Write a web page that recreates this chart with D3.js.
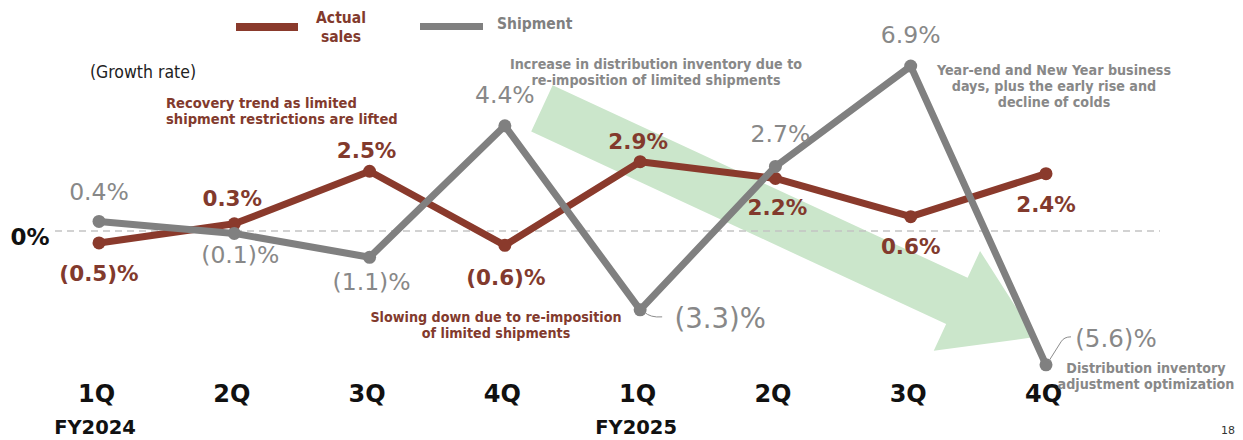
<!DOCTYPE html>
<html>
<head>
<meta charset="utf-8">
<script src="https://cdn.jsdelivr.net/npm/d3@7"></script>
<style>
  html, body { margin: 0; padding: 0; background: #fff; }
  svg { display: block; }
</style>
</head>
<body>
<svg id="chart" width="1243" height="440"></svg>
<script>
// Quarterly growth rates, FY2024 1Q to FY2025 4Q
const quarters = ["1Q", "2Q", "3Q", "4Q", "1Q", "2Q", "3Q", "4Q"];
const fiscalYears = ["FY2024", "", "", "", "FY2025", "", "", ""];
const actualSales = [-0.5, 0.3, 2.5, -0.6, 2.9, 2.2, 0.6, 2.4];
const shipment = [0.4, -0.1, -1.1, 4.4, -3.3, 2.7, 6.9, -5.6];
const seriesNames = ["Actual sales", "Shipment"];

// Label placement relative to each point (dx, dy)
const salesLabelOffsets = [[0, 31], [-2, -25], [-3, -21], [1, 32], [-2, -20], [2, 29], [0, 30], [0, 31]];
const shipLabelOffsets = [[0, -29], [6, 22], [2, 25], [0, -31], [80, 8], [5, -32], [0, -31], [70, -26]];

const BROWN = "#8a3a2c";
const BROWN_TEXT = "#823a2d";
const GRAY = "#808080";
const GRAY_TEXT = "#888888";
const FONT = "'DejaVu Sans', Verdana, sans-serif";
const FONT_C = "'DejaVu Sans Condensed', 'DejaVu Sans', sans-serif";

const svg = d3.select("#chart");
const idx = d3.range(quarters.length);

const x = d3.scalePoint().domain(idx).range([99, 1046]);
const y = d3.scaleLinear().domain([-6, 7]).range([231 + 6 * 23.9, 231 - 7 * 23.9]);

const fmt = v => v < 0 ? `(${Math.abs(v).toFixed(1)})%` : `${v.toFixed(1)}%`;

// Trend arrow (background), defined in data space
(function drawArrow() {
  const tail = [x(0) + 3.274 * (x(1) - x(0)), y(5.13)];
  const tip = [x(0) + 6.918 * (x(1) - x(0)), y(-4.44)];
  const dxv = tip[0] - tail[0], dyv = tip[1] - tail[1];
  const len = Math.hypot(dxv, dyv);
  const u = [dxv / len, dyv / len];
  const n = [-u[1], u[0]];
  const bodyHalf = 25.5, headHalf = 55, headLen = 86;
  const p = (a, b) => [tail[0] + u[0] * a + n[0] * b, tail[1] + u[1] * a + n[1] * b];
  const pts = [
    p(0, -bodyHalf), p(len - headLen, -bodyHalf), p(len - headLen, -headHalf),
    p(len, 0),
    p(len - headLen, headHalf), p(len - headLen, bodyHalf), p(0, bodyHalf)
  ];
  svg.append("polygon")
    .attr("points", pts.map(d => d.join(",")).join(" "))
    .attr("fill", "#cbe6cb");
})();

// Zero baseline
svg.append("line")
  .attr("x1", 55).attr("x2", 1160)
  .attr("y1", y(0)).attr("y2", y(0))
  .attr("stroke", "#c4c4c4").attr("stroke-width", 1.5)
  .attr("stroke-dasharray", "7,5");

svg.append("text")
  .attr("x", 30).attr("y", y(0) + 6)
  .attr("text-anchor", "middle").attr("dominant-baseline", "central")
  .attr("font-family", FONT).attr("font-weight", "bold").attr("font-size", 23)
  .attr("fill", "#111").text("0%");

// Category axis
const xAxis = d3.axisBottom(x).tickSize(0).tickPadding(0).tickFormat(i => quarters[i]);
const axisG = svg.append("g").attr("transform", "translate(-3,393)").call(xAxis);
axisG.select(".domain").remove();
axisG.selectAll("text")
  .attr("font-family", FONT).attr("font-weight", "bold").attr("font-size", 24)
  .attr("fill", "#111").attr("dy", "0.36em");

svg.append("g").selectAll("text")
  .data(idx.filter(i => fiscalYears[i]))
  .join("text")
  .attr("x", i => x(i) - 4).attr("y", 427)
  .attr("text-anchor", "middle").attr("dominant-baseline", "central")
  .attr("font-family", FONT).attr("font-weight", "bold").attr("font-size", 19.5)
  .attr("fill", "#111").text(i => fiscalYears[i]);

// Lines
const line = d3.line().x((d, i) => x(i)).y(d => y(d));

function drawSeries(values, color) {
  svg.append("path").datum(values)
    .attr("d", line).attr("fill", "none")
    .attr("stroke", color).attr("stroke-width", 7)
    .attr("stroke-linejoin", "round");
  svg.append("g").selectAll("circle").data(values).join("circle")
    .attr("cx", (d, i) => x(i)).attr("cy", d => y(d))
    .attr("r", 6.5).attr("fill", color);
}
drawSeries(actualSales, BROWN);
drawSeries(shipment, GRAY);

// Leader lines for the two detached shipment labels
const leaders = [
  { i: 4, path: (px, py) => `M${px + 4},${py + 2} Q${px + 10},${py + 8} ${px + 22},${py + 7}` },
  { i: 7, path: (px, py) => `M${px + 3},${py - 4} L${px + 15},${py - 23} Q${px + 18},${py - 28} ${px + 25},${py - 28}` }
];
svg.append("g").selectAll("path").data(leaders).join("path")
  .attr("d", d => d.path(x(d.i), y(shipment[d.i])))
  .attr("fill", "none").attr("stroke", "#8c8c8c").attr("stroke-width", 1);

// Value labels
svg.append("g").selectAll("text").data(actualSales).join("text")
  .attr("x", (d, i) => x(i) + salesLabelOffsets[i][0])
  .attr("y", (d, i) => y(d) + salesLabelOffsets[i][1])
  .attr("text-anchor", "middle").attr("dominant-baseline", "central")
  .attr("font-family", FONT).attr("font-weight", "bold").attr("font-size", 21.5)
  .attr("fill", BROWN_TEXT).text(fmt);

const shipSize = i => i === 4 ? 27.5 : (i === 7 ? 24.5 : 23.5);
svg.append("g").selectAll("text").data(shipment).join("text")
  .attr("x", (d, i) => x(i) + shipLabelOffsets[i][0])
  .attr("y", (d, i) => y(d) + shipLabelOffsets[i][1])
  .attr("text-anchor", "middle").attr("dominant-baseline", "central")
  .attr("font-family", FONT).attr("font-size", (d, i) => shipSize(i))
  .attr("fill", GRAY_TEXT).text(fmt);

// Legend
const legend = svg.append("g");
legend.append("rect").attr("x", 236).attr("y", 23).attr("width", 62).attr("height", 8).attr("fill", BROWN);
legend.append("text").attr("x", 341).attr("y", 18)
  .attr("text-anchor", "middle").attr("dominant-baseline", "central")
  .attr("font-family", FONT_C).attr("font-weight", "bold").attr("font-size", 15.5)
  .attr("fill", BROWN_TEXT).text("Actual");
legend.append("text").attr("x", 341).attr("y", 37)
  .attr("text-anchor", "middle").attr("dominant-baseline", "central")
  .attr("font-family", FONT_C).attr("font-weight", "bold").attr("font-size", 15.5)
  .attr("fill", BROWN_TEXT).text("sales");
legend.append("rect").attr("x", 420).attr("y", 23).attr("width", 63).attr("height", 7).attr("fill", GRAY);
legend.append("text").attr("x", 497).attr("y", 24)
  .attr("dominant-baseline", "central")
  .attr("font-family", FONT_C).attr("font-weight", "bold").attr("font-size", 15.5)
  .attr("fill", GRAY).text(seriesNames[1]);

svg.append("text").attr("x", 143).attr("y", 72)
  .attr("text-anchor", "middle").attr("dominant-baseline", "central")
  .attr("font-family", FONT_C).attr("font-size", 17.5)
  .attr("fill", "#222").text("(Growth rate)");

// Annotations
const notes = [
  { x: 166, y: 102, anchor: "start", color: BROWN_TEXT, lines: ["Recovery trend as limited", "shipment restrictions are lifted"] },
  { x: 656, y: 64, anchor: "middle", color: GRAY_TEXT, lines: ["Increase in distribution inventory due to", "re-imposition of limited shipments"] },
  { x: 1054, y: 70, anchor: "middle", color: GRAY_TEXT, lines: ["Year-end and New Year business", "days, plus the early rise and", "decline of colds"] },
  { x: 496, y: 317, anchor: "middle", color: BROWN_TEXT, lines: ["Slowing down due to re-imposition", "of limited shipments"] },
  { x: 1146, y: 368, anchor: "middle", color: GRAY_TEXT, lines: ["Distribution inventory", "adjustment optimization"] }
];
const noteG = svg.append("g").selectAll("text").data(notes).join("text")
  .attr("x", d => d.x).attr("y", d => d.y)
  .attr("text-anchor", d => d.anchor).attr("dominant-baseline", "central")
  .attr("font-family", FONT_C).attr("font-weight", "bold")
  .attr("font-size", d => d.anchor === "start" ? 14.6 : 14.2)
  .attr("fill", d => d.color);
noteG.selectAll("tspan").data(d => d.lines.map(l => ({ l, x: d.x }))).join("tspan")
  .attr("x", d => d.x).attr("dy", (d, i) => i === 0 ? 0 : 16).text(d => d.l);

// Page number
svg.append("text").attr("x", 1228).attr("y", 434)
  .attr("text-anchor", "middle")
  .attr("font-family", FONT).attr("font-size", 11).attr("fill", "#333").text("18");
</script>
</body>
</html>
